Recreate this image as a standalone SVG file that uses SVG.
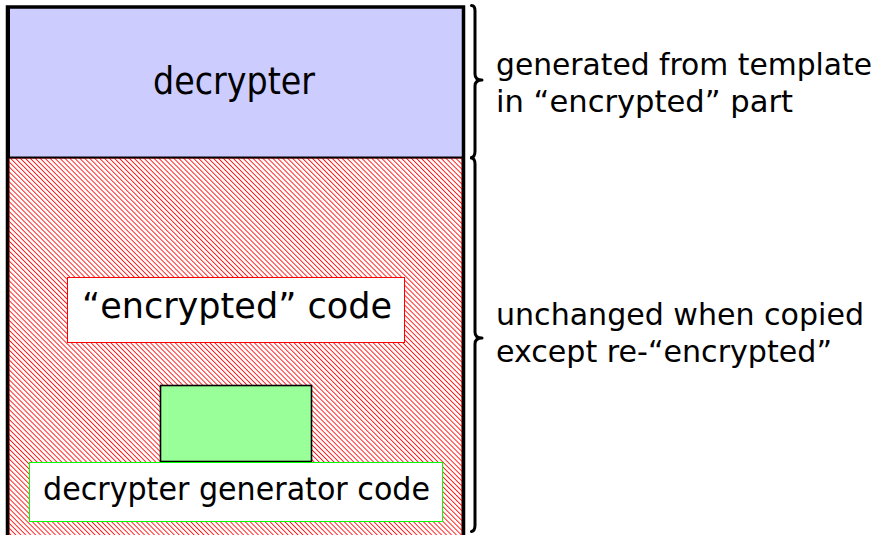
<svg xmlns="http://www.w3.org/2000/svg" width="885" height="535" viewBox="0 0 885 535">
<style>
  text { font-family: "DejaVu Sans", "Liberation Sans", sans-serif; fill: #000; }
  .brace { fill: none; stroke: #000; stroke-width: 3; stroke-linejoin: round; stroke-linecap: round; }
  .lbl { font-size: 30px; }
</style>
<defs>
  <pattern id="hatch" patternUnits="userSpaceOnUse" width="3.5" height="3.5" patternTransform="rotate(-45)">
    <line x1="0.5" y1="-1" x2="0.5" y2="5" stroke="#ff0000" stroke-width="0.85"/>
  </pattern>
</defs>
<rect width="885" height="535" fill="#fff"/>

<g id="encrypted-part">
  <rect x="9" y="158" width="453" height="390" fill="#fff"/>
  <rect x="9" y="158" width="453" height="390" fill="url(#hatch)" stroke="#ff0000" stroke-width="1"/>
</g>

<g id="decrypter">
  <rect x="9" y="7" width="454" height="150.5" fill="#ccccff" stroke="#000" stroke-width="2"/>
  <text x="153" y="94" font-size="37" textLength="162" lengthAdjust="spacingAndGlyphs">decrypter</text>
</g>

<g id="outer-frame">
  <rect x="7.5" y="7" width="456" height="560" fill="none" stroke="#000" stroke-width="3.5"/>
</g>

<g id="encrypted-code">
  <rect x="67.5" y="277.5" width="337" height="65" fill="#fff" stroke="#ff0000" stroke-width="1"/>
  <text x="82" y="318" font-size="35" textLength="310" lengthAdjust="spacingAndGlyphs">“encrypted” code</text>
</g>

<g id="generator-block">
  <rect x="160.5" y="385.5" width="151" height="76" fill="#99ff99" stroke="#000" stroke-width="1.6"/>
</g>

<g id="generator-code">
  <rect x="29.5" y="462.5" width="413" height="59" fill="#fff" stroke="#00ff00" stroke-width="1"/>
  <text x="43" y="500" font-size="32" textLength="387" lengthAdjust="spacingAndGlyphs">decrypter generator code</text>
</g>

<g id="connectors">
  <path class="brace" d="M471.5,5.5 Q475,5.5 475,11 L475,74 Q475,80 482,80 Q475,80 475,86 L475,151 Q475,157 471.5,157.5"/>
  <path class="brace" d="M471.5,158 Q475,158.5 475,164 L475,332 Q475,338 482,338 Q475,338 475,344 L475,525 Q475,531 471.5,531.5"/>
</g>

<g id="label-top">
  <text class="lbl" x="496" y="75" textLength="376" lengthAdjust="spacingAndGlyphs">generated from template</text>
  <text class="lbl" x="496" y="112" textLength="297" lengthAdjust="spacingAndGlyphs">in “encrypted” part</text>
</g>

<g id="label-bottom">
  <text class="lbl" x="496" y="325" textLength="368" lengthAdjust="spacingAndGlyphs">unchanged when copied</text>
  <text class="lbl" x="496" y="362" textLength="336" lengthAdjust="spacingAndGlyphs">except re-“encrypted”</text>
</g>
</svg>
